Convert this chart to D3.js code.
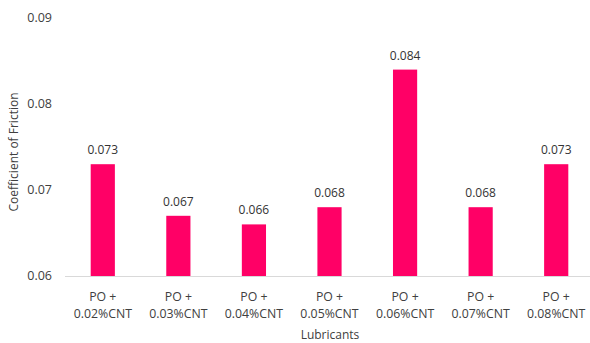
<!DOCTYPE html>
<html>
<head>
<meta charset="utf-8">
<script src="https://cdn.jsdelivr.net/npm/d3@7"></script>
<style>
  body { margin: 0; background: #fff; }
  svg { display: block; }
  text { font-family: "Open Sans", "Noto Sans", sans-serif; }
</style>
</head>
<body>
<svg id="chart" width="590" height="343"></svg>
<script>
// Coefficient of friction for palm oil with CNT additive
const lubricantLines = [
  ["PO +", "0.02%CNT"],
  ["PO +", "0.03%CNT"],
  ["PO +", "0.04%CNT"],
  ["PO +", "0.05%CNT"],
  ["PO +", "0.06%CNT"],
  ["PO +", "0.07%CNT"],
  ["PO +", "0.08%CNT"]
];
const lubricants = lubricantLines.map(l => l.join(" "));
const friction = [0.073, 0.067, 0.066, 0.068, 0.084, 0.068, 0.073];
const yTicks = [0.06, 0.07, 0.08, 0.09];

const svg = d3.select("#chart");
const plotLeft = 65, plotRight = 594, plotTop = 18, plotBottom = 276;

const x = d3.scaleBand().domain(lubricants).range([plotLeft, plotRight]).paddingInner(0.68).paddingOuter(0.34);
const y = d3.scaleLinear().domain([0.06, 0.09]).range([plotBottom, plotTop]);
const cx = i => x(lubricants[i]) + x.bandwidth() / 2;

// y tick labels
svg.append("g").selectAll("text").data(yTicks).join("text")
  .attr("x", 52).attr("y", d => y(d)).attr("dy", "0.35em")
  .attr("text-anchor", "end").attr("font-size", 12.5).attr("fill", "#404040")
  .text(d => d3.format(".2f")(d));

// bars
svg.append("g").selectAll("rect").data(friction).join("rect")
  .attr("x", (d, i) => x(lubricants[i]))
  .attr("width", x.bandwidth())
  .attr("y", d => y(d))
  .attr("height", d => y(0.06) - y(d))
  .attr("fill", "#ff0066");

// baseline
svg.append("line").attr("x1", plotLeft).attr("x2", 590)
  .attr("y1", y(0.06) + 0.5).attr("y2", y(0.06) + 0.5)
  .attr("stroke", "#d9d9d9").attr("stroke-width", 1);

// value labels
svg.append("g").selectAll("text").data(friction).join("text")
  .attr("x", (d, i) => cx(i))
  .attr("y", d => y(d) - 10)
  .attr("text-anchor", "middle").attr("font-size", 12).attr("fill", "#333333")
  .text(d => d3.format(".3f")(d));

// category labels (two lines)
const cat = svg.append("g").selectAll("text").data(lubricantLines).join("text")
  .attr("text-anchor", "middle").attr("font-size", 12.3).attr("fill", "#404040");
cat.append("tspan").attr("y", 301).attr("x", (d, i) => cx(i)).text(d => d[0]);
cat.append("tspan").attr("y", 318).attr("x", (d, i) => cx(i)).text(d => d[1]);

// axis titles
svg.append("text").attr("x", 330).attr("y", 339)
  .attr("text-anchor", "middle").attr("font-size", 12).attr("fill", "#404040")
  .text("Lubricants");
svg.append("text")
  .attr("transform", `translate(18,${(plotTop + plotBottom) / 2 + 5}) rotate(-90)`)
  .attr("text-anchor", "middle").attr("font-size", 12).attr("fill", "#404040")
  .text("Coefficient of Friction");
</script>
</body>
</html>
